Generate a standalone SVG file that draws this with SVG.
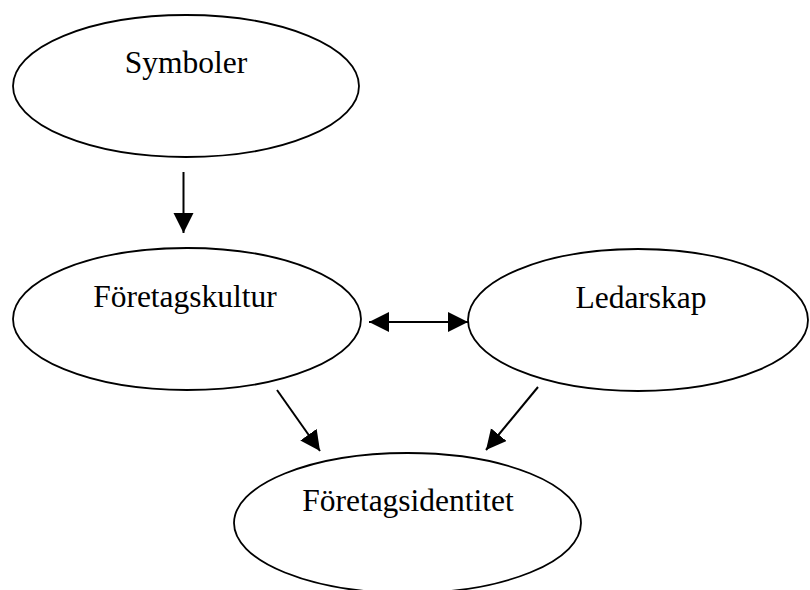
<svg xmlns="http://www.w3.org/2000/svg" width="810" height="590" viewBox="0 0 810 590">
<style>
.node ellipse{fill:#fff;stroke:#000;stroke-width:1.8}
.node text{font-family:"Liberation Serif","Times New Roman",serif;font-size:31.5px;fill:#000;text-anchor:middle}
.conn line{stroke:#000;stroke-width:2;fill:none}
</style>
<defs>
<marker id="ah" markerUnits="userSpaceOnUse" markerWidth="21" markerHeight="21" refX="20" refY="10" orient="auto-start-reverse" viewBox="0 0 21 21">
<path d="M0,0 L20,10 L0,20 z" fill="#000"/>
</marker>
</defs>
<rect width="810" height="590" fill="#fff"/>
<g id="symboler" class="node">
<ellipse cx="186" cy="86" rx="173" ry="71"/>
<text x="186" y="73">Symboler</text>
</g>
<g id="foretagskultur" class="node">
<ellipse cx="187" cy="319" rx="174" ry="71"/>
<text x="185" y="307">Företagskultur</text>
</g>
<g id="ledarskap" class="node">
<ellipse cx="638" cy="320" rx="170" ry="71"/>
<text x="641" y="308">Ledarskap</text>
</g>
<g id="foretagsidentitet" class="node">
<ellipse cx="407.5" cy="523" rx="173.5" ry="70"/>
<text x="408" y="511">Företagsidentitet</text>
</g>
<g id="connectors" class="conn">
<line x1="183.5" y1="172" x2="183.5" y2="233" marker-end="url(#ah)"/>
<line x1="369" y1="322" x2="468" y2="322" marker-start="url(#ah)" marker-end="url(#ah)"/>
<line x1="277" y1="390" x2="320" y2="451" marker-end="url(#ah)"/>
<line x1="538" y1="387" x2="486" y2="450" marker-end="url(#ah)"/>
</g>
</svg>
